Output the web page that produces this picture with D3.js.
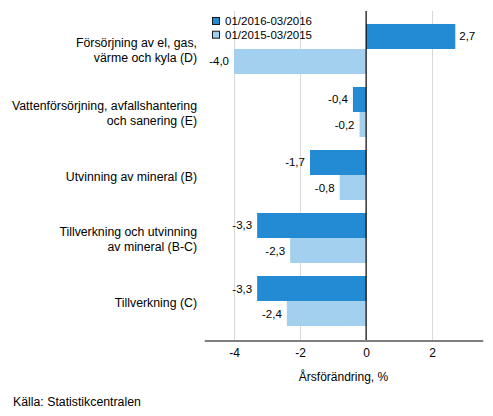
<!DOCTYPE html>
<html><head><meta charset="utf-8">
<script src="https://cdn.jsdelivr.net/npm/d3@7"></script>
<style>body{margin:0;background:#fff}svg{display:block;font-family:"Liberation Sans",Arial,sans-serif}</style>
</head><body><svg id="c" width="493" height="416"></svg>
<script>
const categories = [
  ["Försörjning av el, gas,", "värme och kyla (D)"],
  ["Vattenförsörjning, avfallshantering", "och sanering (E)"],
  ["Utvinning av mineral (B)"],
  ["Tillverkning och utvinning", "av mineral (B-C)"],
  ["Tillverkning (C)"]
];
const seriesNames = ["01/2016-03/2016", "01/2015-03/2015"];
const series2016 = [2.7, -0.4, -1.7, -3.3, -3.3];
const series2015 = [-4.0, -0.2, -0.8, -2.3, -2.4];
const tickValues = [-4, -2, 0, 2];
const colors = ["#238bd4", "#a3d0ee"];

const svg = d3.select("#c");
const x = d3.scaleLinear().domain([-4.9, 3.53]).range([204.3, 482.7]);
const y = d3.scaleBand().domain(d3.range(categories.length)).range([11, 339]).padding(0.206);
const sub = d3.scaleBand().domain([0, 1]).range([0, y.bandwidth()]);
const fmt = v => d3.format(".1f")(v).replace(".", ",").replace("−", "-");

// grid
svg.append("g").selectAll("line").data(tickValues.filter(d => d !== 0)).join("line")
  .attr("x1", d => Math.round(x(d)) + 0.5).attr("x2", d => Math.round(x(d)) + 0.5)
  .attr("y1", 11).attr("y2", 340).attr("stroke", "#d9d9d9").attr("stroke-width", 1);

const data = [series2016, series2015];
data.forEach((vals, si) => {
  const g = svg.append("g");
  g.selectAll("rect").data(vals).join("rect")
    .attr("x", d => x(Math.min(0, d)))
    .attr("width", d => Math.abs(x(d) - x(0)))
    .attr("y", (d, i) => y(i) + sub(si))
    .attr("height", sub.bandwidth())
    .attr("fill", colors[si]);
  g.selectAll("text").data(vals).join("text")
    .attr("x", d => d >= 0 ? x(d) + 4 : x(d) - 5)
    .attr("y", (d, i) => y(i) + sub(si) + sub.bandwidth() / 2 + 4)
    .attr("text-anchor", d => d >= 0 ? "start" : "end")
    .attr("font-size", 11.5).attr("fill", "#000")
    .text(d => fmt(d));
});

// zero line
svg.append("line").attr("x1", x(0)).attr("x2", x(0)).attr("y1", 11).attr("y2", 340)
  .attr("stroke", "#000").attr("stroke-width", 1.2);

// x axis
const ax = svg.append("g").attr("transform", "translate(0,340.5)")
  .call(d3.axisBottom(x).tickValues(tickValues).tickSize(0).tickPadding(8).tickFormat(d => d3.format("d")(d).replace("−", "-")));
ax.select(".domain").attr("stroke", "#000").attr("stroke-width", 1.2);
ax.selectAll("text").attr("font-size", 12).attr("font-family", "'Liberation Sans',Arial,sans-serif").attr("fill", "#000");

svg.append("text").attr("x", (x.range()[0] + x.range()[1]) / 2).attr("y", 381)
  .attr("text-anchor", "middle").attr("font-size", 12).text("Årsförändring, %");

// category labels
categories.forEach((lines, i) => {
  const cy = y(i) + y.bandwidth() / 2 + 1.5;
  const lh = 14.8;
  const t = svg.append("text").attr("text-anchor", "end").attr("font-size", 12.3).attr("fill", "#000");
  lines.forEach((l, j) => {
    t.append("tspan").attr("x", 197)
      .attr("y", cy + (j - (lines.length - 1) / 2) * lh + 4.3).text(l);
  });
});

// legend
seriesNames.forEach((n, i) => {
  svg.append("rect").attr("x", 212.5).attr("y", 17.5 + i * 13.7).attr("width", 7).attr("height", 7)
    .attr("fill", colors[i]).attr("stroke", "#1a1a1a").attr("stroke-width", 1);
  svg.append("text").attr("x", 225).attr("y", 25.3 + i * 13.7).attr("font-size", 11.5).text(n);
});

svg.append("text").attr("x", 13).attr("y", 406).attr("font-size", 12.3).text("Källa: Statistikcentralen");
</script></body></html>
